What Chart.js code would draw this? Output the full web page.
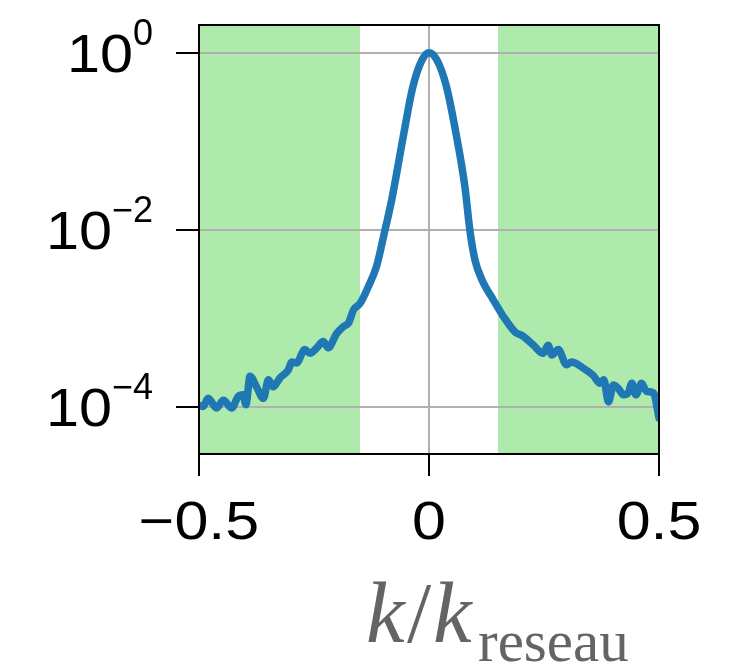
<!DOCTYPE html>
<html>
<head>
<meta charset="utf-8">
<script src="https://cdn.jsdelivr.net/npm/chart.js@4/dist/chart.umd.min.js"></script>
<style>
  html, body { margin: 0; padding: 0; background: #ffffff; }
  #wrap { width: 739px; height: 664px; position: relative; }
</style>
</head>
<body>
<div id="wrap"><canvas id="c" width="739" height="664"></canvas></div>
<script>
// ---- data ----
const xValues = [-0.500, -0.491, -0.480, -0.462, -0.447, -0.429, -0.415, -0.404, -0.398, -0.389,
  -0.375, -0.360, -0.349, -0.339, -0.324, -0.306, -0.298, -0.288, -0.270, -0.259,
  -0.244, -0.230, -0.219, -0.201, -0.186, -0.175, -0.164, -0.150, -0.132, -0.114,
  -0.096, -0.081, -0.056, -0.035, -0.015, 0.000, 0.017, 0.038, 0.060, 0.078,
  0.089, 0.100, 0.115, 0.140, 0.162, 0.187, 0.205, 0.227, 0.248, 0.259,
  0.267, 0.281, 0.299, 0.310, 0.336, 0.357, 0.372, 0.380, 0.390, 0.401,
  0.412, 0.423, 0.433, 0.441, 0.450, 0.462, 0.473, 0.488, 0.500];
const yValues = [1.05e-4, 1.02e-4, 1.26e-4, 9.8e-5, 1.20e-4, 9.8e-5, 1.32e-4, 1.38e-4, 1.07e-4, 2.24e-4,
  1.70e-4, 1.26e-4, 2.04e-4, 1.70e-4, 2.14e-4, 2.63e-4, 3.24e-4, 3.16e-4, 4.47e-4, 4.07e-4,
  4.68e-4, 5.50e-4, 4.68e-4, 6.76e-4, 8.13e-4, 8.91e-4, 1.26e-3, 1.48e-3, 2.29e-3, 3.89e-3,
  9.8e-3, 2.19e-2, 0.113, 0.413, 0.83, 1.0, 0.83, 0.413, 0.113, 3.09e-2,
  9.8e-3, 4.57e-3, 2.75e-3, 1.62e-3, 1.05e-3, 7.08e-4, 6.3e-4, 5.01e-4, 4.07e-4, 5.01e-4,
  3.89e-4, 4.47e-4, 3.02e-4, 3.24e-4, 2.75e-4, 2.29e-4, 1.86e-4, 2.04e-4, 1.15e-4, 1.78e-4,
  1.62e-4, 1.38e-4, 1.45e-4, 1.86e-4, 1.38e-4, 1.86e-4, 1.51e-4, 1.45e-4, 7.6e-5];
const xTickValues = [-0.5, 0, 0.5];
const xTickLabels = ['\u22120.5', '0', '0.5'];
const yTickValues = [1e-4, 1e-2, 1];
const yTickBases = ['10', '10', '10'];
const yTickExponents = ['\u22124', '\u22122', '0'];
const shadedRanges = [[-0.5, -0.15], [0.15, 0.5]];
const xTitleParts = ['k', '/', 'k'];
const xTitleSub = 'reseau';
const xMin = -0.5, xMax = 0.5;
const yMin = 2.97e-5, yMax = 2.05;

const points = xValues.map((x, i) => ({ x: x, y: yValues[i] }));

function drawText(ctx, text, x, y, font, align, sx, color) {
  ctx.save();
  ctx.font = font;
  ctx.fillStyle = color || '#000000';
  ctx.textBaseline = 'alphabetic';
  ctx.textAlign = align;
  ctx.translate(x, y);
  ctx.scale(sx, 1);
  ctx.fillText(text, 0, 0);
  ctx.restore();
}

const decorPlugin = {
  id: 'decor',
  beforeDraw(chart) {
    const { ctx, chartArea: a, scales } = chart;
    const xs = scales.x;
    ctx.save();
    ctx.fillStyle = '#aeeaac';
    shadedRanges.forEach(([lo, hi]) => {
      const p0 = xs.getPixelForValue(lo), p1 = xs.getPixelForValue(hi);
      ctx.fillRect(p0, a.top, p1 - p0, a.bottom - a.top);
    });
    ctx.restore();
  },
  afterDraw(chart) {
    const { ctx, chartArea: a, scales } = chart;
    const xs = scales.x, ys = scales.y;
    // frame
    ctx.save();
    ctx.strokeStyle = '#000000';
    ctx.lineWidth = 2;
    ctx.strokeRect(a.left, a.top, a.right - a.left, a.bottom - a.top);
    ctx.restore();
    // y tick labels with superscript exponents
    const rightEdge = 153;
    yTickValues.forEach((v, i) => {
      const py = ys.getPixelForValue(v);
      ctx.save();
      ctx.font = '36px "Liberation Sans", Arial, sans-serif';
      const ew = ctx.measureText(yTickExponents[i]).width;
      ctx.restore();
      drawText(ctx, yTickExponents[i], rightEdge, py - 8, '36px "Liberation Sans", Arial, sans-serif', 'right', 1, '#000');
      drawText(ctx, yTickBases[i], rightEdge - ew, py + 19, '54px "Liberation Sans", Arial, sans-serif', 'right', 1.1, '#000');
    });
    // x tick labels
    xTickValues.forEach((v, i) => {
      const px = xs.getPixelForValue(v);
      drawText(ctx, xTickLabels[i], px, 539, '53px "Liberation Sans", Arial, sans-serif', 'center', 1.15, '#000');
    });
    // x axis title
    const grey = '#646464';
    const italicFont = 'italic 87px "Liberation Serif", "Times New Roman", serif';
    const uprightFont = '87px "Liberation Serif", "Times New Roman", serif';
    const subFont = '59px "Liberation Serif", "Times New Roman", serif';
    const partX = [366, 407, 433];
    const partFont = [italicFont, uprightFont, italicFont];
    xTitleParts.forEach((t, i) => drawText(ctx, t, partX[i], 642, partFont[i], 'left', 1, grey));
    drawText(ctx, xTitleSub, 478, 661, subFont, 'left', 1, grey);
  }
};

new Chart(document.getElementById('c'), {
  type: 'line',
  data: {
    datasets: [{
      data: points,
      borderColor: '#1f77b4',
      borderWidth: 7.5,
      pointRadius: 0,
      fill: false,
      cubicInterpolationMode: 'monotone',
      borderJoinStyle: 'round',
      borderCapStyle: 'round'
    }]
  },
  options: {
    responsive: false,
    animation: false,
    devicePixelRatio: 1,
    layout: { padding: { left: 0, top: 25, right: 80, bottom: 0 } },
    plugins: { legend: { display: false }, tooltip: { enabled: false }, title: { display: false } },
    scales: {
      x: {
        type: 'linear',
        min: xMin, max: xMax,
        afterBuildTicks: (s) => { s.ticks = xTickValues.map(v => ({ value: v })); },
        afterFit: (s) => { s.height = 210; },
        ticks: { display: false },
        grid: { color: '#b0b0b0', lineWidth: 2, drawTicks: true, tickLength: 22, tickColor: '#000000', tickWidth: 2 },
        border: { display: true, color: '#000000', width: 2 }
      },
      y: {
        type: 'logarithmic',
        min: yMin, max: yMax,
        afterBuildTicks: (s) => { s.ticks = yTickValues.map(v => ({ value: v })); },
        afterFit: (s) => { s.width = 199; },
        ticks: { display: false },
        grid: { color: '#b0b0b0', lineWidth: 2, drawTicks: true, tickLength: 23, tickColor: '#000000', tickWidth: 2 },
        border: { display: true, color: '#000000', width: 2 }
      }
    }
  },
  plugins: [decorPlugin]
});
</script>
</body>
</html>
